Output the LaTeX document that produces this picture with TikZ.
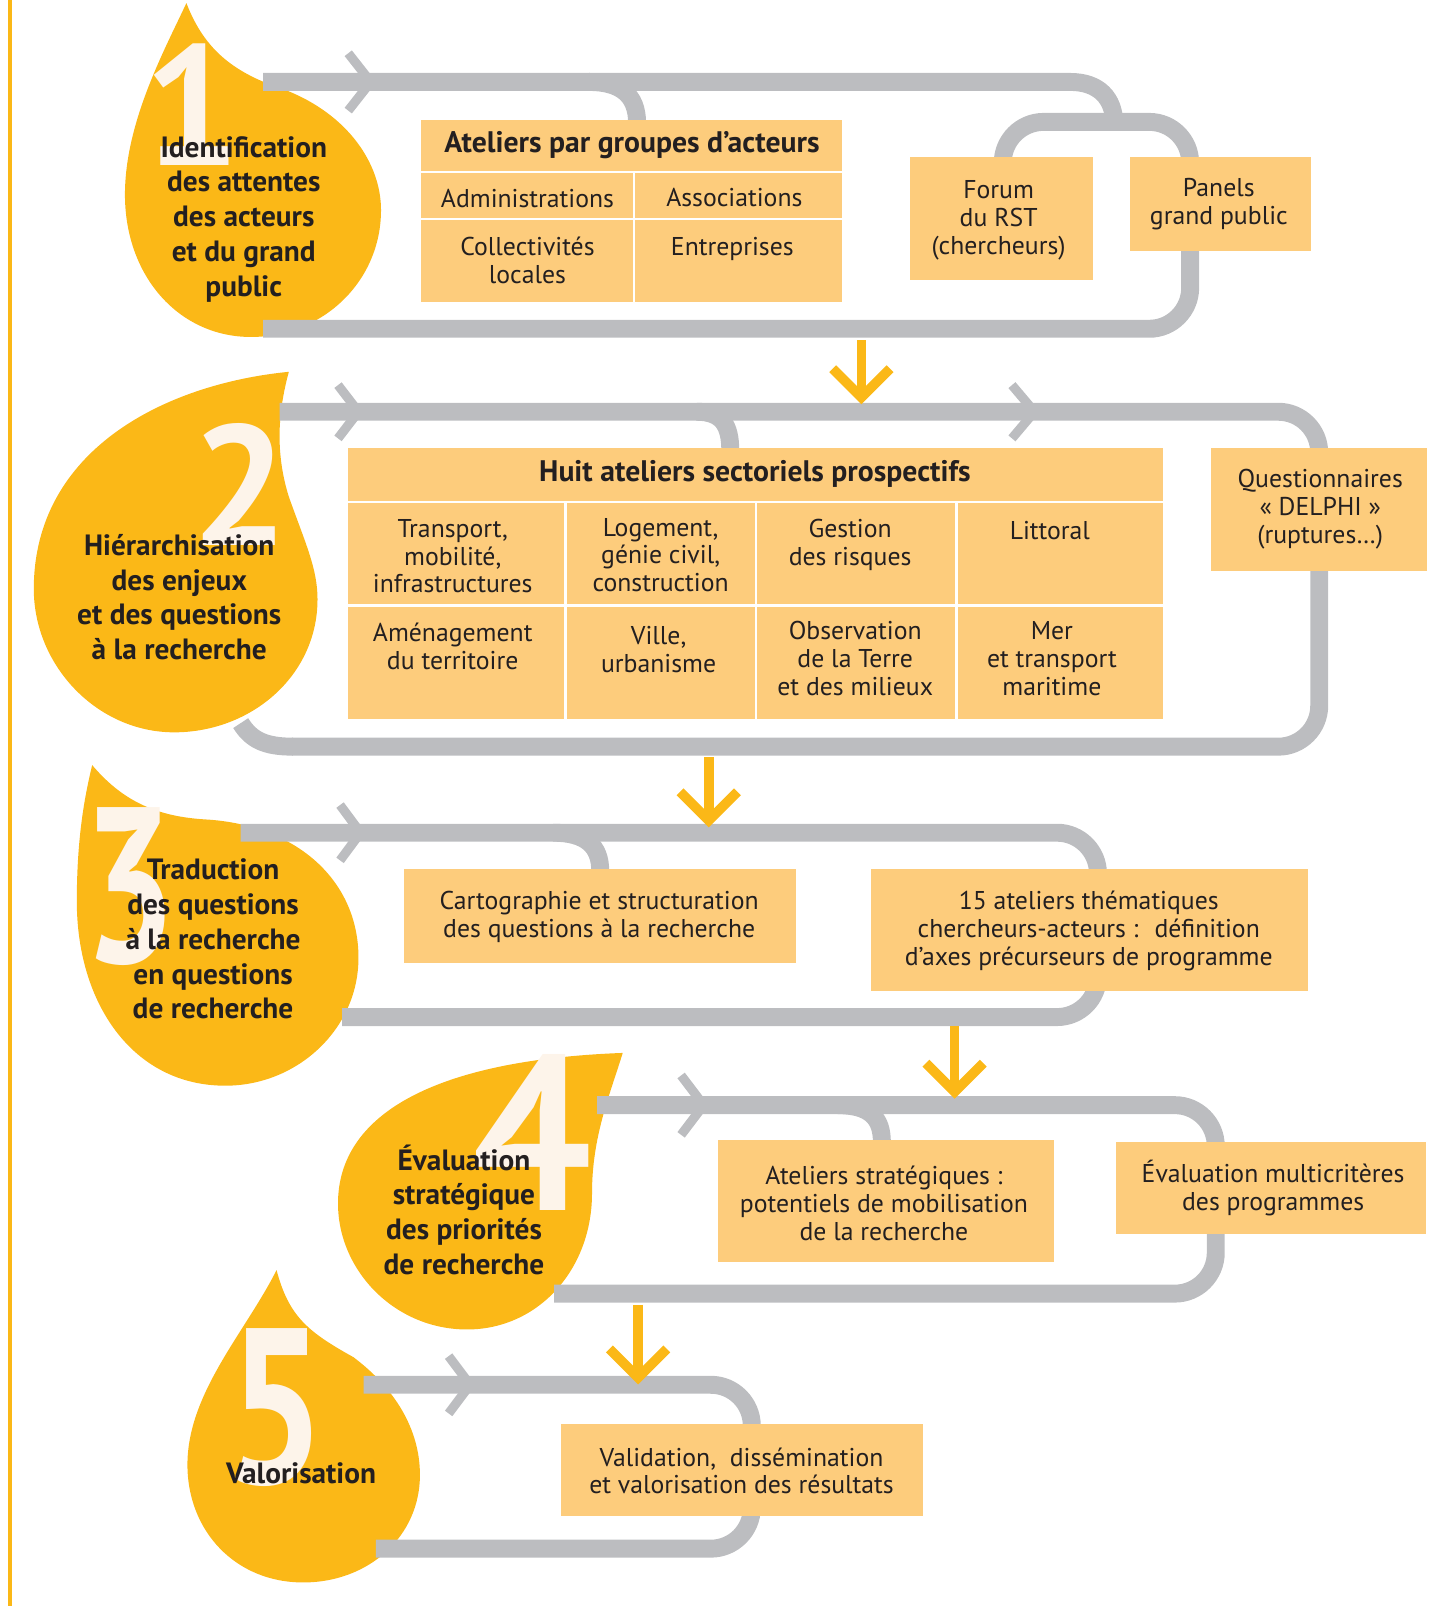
\documentclass[tikz,border=0pt]{standalone}
\usepackage{fontspec}
\setmainfont{PT Sans}

\definecolor{drop}{HTML}{FBB817}
\definecolor{pale}{HTML}{FDCC7C}
\definecolor{rail}{HTML}{BCBDC0}
\definecolor{cream}{HTML}{FDF4EA}
\definecolor{ink}{HTML}{231F20}

\begin{document}
\begin{tikzpicture}[x=0.02cm, y=-0.02cm,
    track/.style={rail, line width=0.35cm},
    chev/.style={rail, line width=0.18cm, miter limit=6},
    down/.style={drop, line width=0.19cm, miter limit=6},
    sep/.style={white, line width=0.05cm},
    num/.style={cream, anchor=base, inner sep=0, font=\fontsize{95}{95}\selectfont\bfseries},
    bignum/.style={num, font=\fontsize{123}{123}\selectfont\bfseries},
    lbl/.style={ink, align=center, inner sep=0, font=\fontsize{16.3}{19.3}\selectfont\bfseries},
    txt/.style={ink, align=center, inner sep=0, font=\fontsize{14.3}{15.4}\selectfont},
    head/.style={txt, font=\fontsize{16.5}{18}\selectfont\bfseries}]
  \useasboundingbox (0,0) rectangle (1404,1568);
  \draw[drop, line width=0.08cm] (10,0) -- (10,1568);

  % drops
  \fill[drop] (182,3) .. controls (200,50) and (230,72) .. (279,88)
    .. controls (340,112) and (372,160) .. (372,205)
    .. controls (372,275) and (315,329) .. (245,329)
    .. controls (175,329) and (122,270) .. (122,190)
    .. controls (122,120) and (160,50) .. (182,3) -- cycle;
  \fill[drop] (282,363) .. controls (272,400) and (268,440) .. (282,485)
    .. controls (298,530) and (310,555) .. (310,585)
    .. controls (310,660) and (245,715) .. (170,715)
    .. controls (95,715) and (33,650) .. (33,575)
    .. controls (33,440) and (160,375) .. (282,363) -- cycle;
  \fill[drop] (90,747) .. controls (118,780) and (150,797) .. (200,800)
    .. controls (290,805) and (350,860) .. (350,935)
    .. controls (350,1005) and (290,1060) .. (220,1060)
    .. controls (130,1060) and (75,980) .. (75,880)
    .. controls (75,820) and (82,780) .. (90,747) -- cycle;
  \fill[drop] (608,1028) .. controls (595,1070) and (578,1110) .. (578,1165)
    .. controls (578,1240) and (525,1298) .. (456,1298)
    .. controls (385,1298) and (330,1240) .. (330,1175)
    .. controls (330,1090) and (420,1035) .. (608,1028) -- cycle;
  \fill[drop] (270,1240) .. controls (282,1285) and (300,1300) .. (345,1325)
    .. controls (385,1355) and (410,1395) .. (410,1440)
    .. controls (410,1500) and (360,1545) .. (296,1545)
    .. controls (230,1545) and (183,1495) .. (183,1430)
    .. controls (183,1360) and (240,1300) .. (270,1240) -- cycle;

  \node[num] (n1) at (187,162) {1};
  \node[num] (n2) at (234,533) {2};
  \node[bignum] (n3) at (127,940) {\scalebox{0.74}[1]{3}};
  \node[bignum] (n4) at (520,1182) {\scalebox{0.95}[1]{4}};
  \node[bignum] (n5) at (269,1448) {\scalebox{0.8}[1]{5}};

  % tracks
  \draw[track] (257,80) -- (1045,80) .. controls (1072,80) and (1088,95) .. (1088,122);
  \draw[track, rounded corners=0.8cm] (979,160) |- (1162,119) |- (257,321);
  \draw[track] (575,80) .. controls (605,80) and (622,92) .. (622,120);
  \draw[chev] (340,52) -- (362,80) -- (340,108);

  \draw[track, rounded corners=0.8cm] (273,402) -| (1288,729) -- (285,729);
  \draw[track] (286,729) .. controls (258,729) and (245,722) .. (235,706);
  \draw[track] (680,402) .. controls (705,402) and (713,415) .. (713,440);
  \draw[chev] (330,376) -- (350,402) -- (330,428);
  \draw[chev] (988,376) -- (1010,402) -- (988,428);

  \draw[track, rounded corners=0.8cm] (235,813) -| (1072,993) -- (334,993);
  \draw[track] (540,813) .. controls (572,813) and (586,826) .. (586,850);
  \draw[chev] (332,786) -- (352,813) -- (332,840);

  \draw[track, rounded corners=0.8cm] (583,1079) -| (1187,1263) -- (541,1263);
  \draw[track] (818,1079) .. controls (850,1079) and (861,1092) .. (861,1115);
  \draw[chev] (665,1050) -- (687,1079) -- (665,1108);

  \draw[track, rounded corners=0.8cm] (355,1352) -| (734,1512) -- (367,1512);
  \draw[chev] (438,1324) -- (459,1352) -- (438,1380);

  % boxes
  \fill[pale] (411,117) rectangle (822,295);
  \draw[sep] (411,168) -- (822,168);
  \draw[sep] (411,214) -- (822,214);
  \draw[sep] (619,168) -- (619,295);
  \fill[pale] (888,153) rectangle (1067,273);
  \fill[pale] (1103,153) rectangle (1280,245);
  \fill[pale] (340,437) rectangle (1135,702);
  \draw[sep] (340,490) -- (1135,490);
  \draw[sep] (340,591) -- (1135,591);
  \foreach \cx in {552,738,934}
    \draw[sep] (\cx,490) -- (\cx,702);
  \fill[pale] (1182,437) rectangle (1393,557);
  \fill[pale] (394,848) rectangle (777,940);
  \fill[pale] (850,848) rectangle (1277,968);
  \fill[pale] (701,1113) rectangle (1029,1232);
  \fill[pale] (1090,1115) rectangle (1392,1205);
  \fill[pale] (548,1390) rectangle (901,1480);

  % step labels
  \node[lbl] (l1) at (238,214) {Identification\\des attentes\\des acteurs\\et du grand\\public};
  \node[lbl] (l2) at (175,583) {Hiérarchisation\\des enjeux\\et des questions\\à la recherche};
  \node[lbl] (l3) at (208,917) {Traduction\\des questions\\à la recherche\\en questions\\de recherche};
  \node[lbl] (l4) at (453,1181) {Évaluation\\stratégique\\des priorités\\de recherche};
  \node[lbl] (l5) at (294,1438) {Valorisation};

  % box texts
  \node[head] (atel) at (617,142) {Ateliers par groupes d’acteurs};
  \node[txt] (adm) at (515,194) {Administrations};
  \node[txt] (asso) at (717,193) {Associations};
  \node[txt] (coll) at (515,254) {Collectivités\\locales};
  \node[txt] (entr) at (715,243) {Entreprises};
  \node[txt] (forum) at (975,215) {Forum\\du RST\\(chercheurs)};
  \node[txt] (panels) at (1190,199) {Panels\\grand public};

  \node[head] (huit) at (737,463) {Huit ateliers sectoriels prospectifs};
  \node[txt] (transp) at (442,543) {Transport,\\mobilité,\\infrastructures};
  \node[txt] (logt) at (645,542) {Logement,\\génie civil,\\construction};
  \node[txt] (risq) at (830,532) {Gestion\\des risques};
  \node[txt] (litt) at (1025,518) {Littoral};
  \node[txt] (amgt) at (442,631) {Aménagement\\du territoire};
  \node[txt] (ville) at (643,634) {Ville,\\urbanisme};
  \node[txt] (obs) at (835,643) {Observation\\de la Terre\\et des milieux};
  \node[txt] (mer) at (1027,643) {Mer\\et transport\\maritime};
  \node[txt] (quest) at (1289,497) {Questionnaires\\«~DELPHI~»\\(ruptures…)};

  \node[txt] (carto) at (585,895) {Cartographie et structuration\\des questions à la recherche};
  \node[txt] (quinze) at (1063,909) {15 ateliers thématiques\\chercheurs-acteurs :~ définition\\d’axes précurseurs de programme};

  \node[txt] (strat) at (863,1175) {Ateliers stratégiques :\\potentiels de mobilisation\\de la recherche};
  \node[txt] (evalm) at (1243,1160) {Évaluation multicritères\\des programmes};

  \node[txt] (valid) at (724,1436) {Validation,~ dissémination\\et valorisation des résultats};

  % arrows between steps
  \coordinate (d1a) at (841,332);  \coordinate (d1b) at (841,388);
  \coordinate (d2a) at (692,739);  \coordinate (d2b) at (692,801);
  \coordinate (d3a) at (932,1002); \coordinate (d3b) at (932,1066);
  \coordinate (d4a) at (623,1274); \coordinate (d4b) at (623,1345);
  \foreach \d in {d1,d2,d3,d4} {
    \draw[down] (\d a) -- (\d b);
    \draw[down] (\d b) ++(-28,-28) -- (\d b) -- ++(28,-28);
  }
\end{tikzpicture}
\end{document}
